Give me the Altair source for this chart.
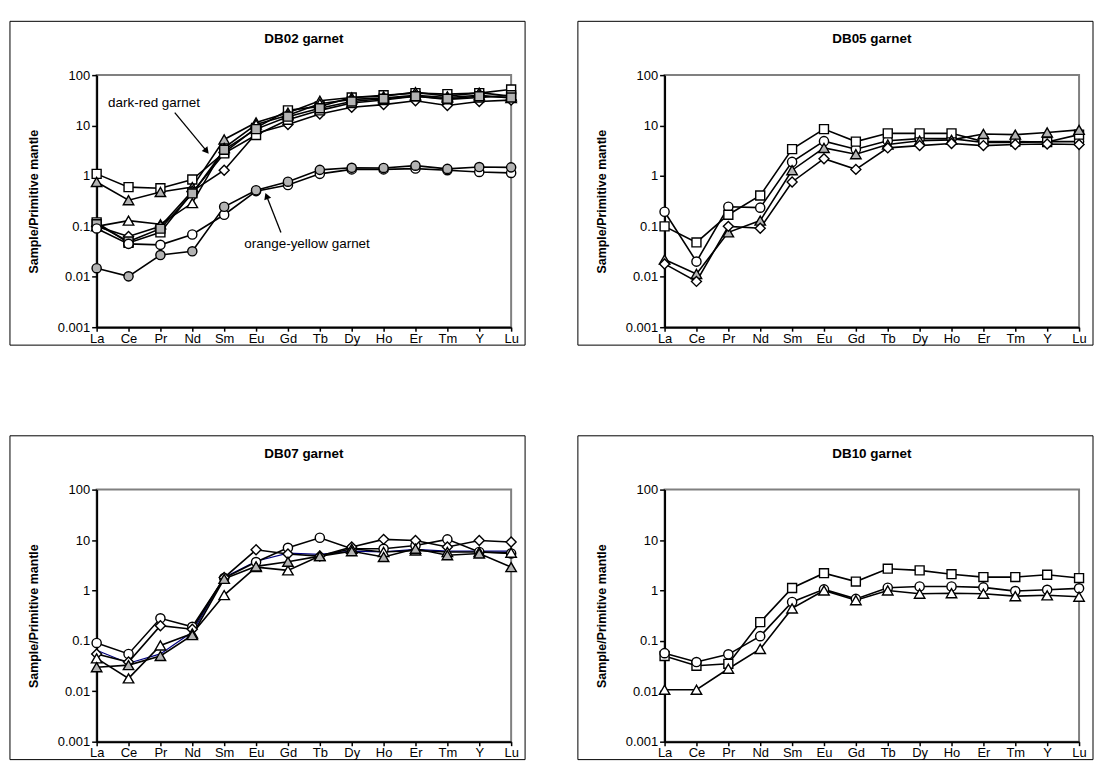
import json
import altair as alt
import pandas as pd

ELEMENTS = ["La", "Ce", "Pr", "Nd", "Sm", "Eu", "Gd", "Tb", "Dy", "Ho", "Er", "Tm", "Y", "Lu"]
Y_TICKS = [0.001, 0.01, 0.1, 1, 10, 100]

# ---- DB02 garnet (dark-red group) ----
db02_sq_high = [1.1, 0.6, 0.57, 0.85, 2.9, 9.0, 20, 24, 36, 40, 44, 42, 44, 52]
db02_tri_grey = [0.76, 0.33, 0.48, 0.6, 5.3, 11.5, 18, 31, 36, 38, 46, 38, 45, 38]
db02_tri_white = [0.1, 0.13, 0.11, 0.29, 3.6, 10.5, 16, 27, 33, 35, 40, 36, 40, 35]
db02_diamond = [0.1, 0.063, 0.1, 0.5, 1.3, 7.0, 10.5, 17, 23, 26, 31, 25, 30, 32]
db02_sq_low = [0.12, 0.047, 0.076, 0.47, 2.8, 6.5, 13, 20, 28, 32, 38, 33, 36, 40]
db02_sq_grey = [0.11, 0.05, 0.09, 0.45, 3.3, 8.5, 15, 22, 30, 34, 38, 34, 38, 36]
# ---- DB02 garnet (orange-yellow group) ----
db02_circ_white = [0.091, 0.045, 0.043, 0.069, 0.17, 0.5, 0.66, 1.1, 1.35, 1.35, 1.4, 1.3, 1.2, 1.15]
db02_circ_grey = [0.0148, 0.0102, 0.027, 0.032, 0.245, 0.52, 0.77, 1.32, 1.45, 1.44, 1.6, 1.38, 1.5, 1.48]

# ---- DB05 garnet ----
db05_circle = [0.195, 0.02, 0.245, 0.235, 1.9, 4.9, 3.4, 5.0, 5.5, 5.5, 4.6, 4.6, 4.8, 4.8]
db05_square = [0.1, 0.048, 0.17, 0.41, 3.4, 8.5, 4.8, 7.0, 7.0, 7.0, 4.8, 4.8, 4.7, 6.6]
db05_tri_grey = [0.022, 0.0114, 0.076, 0.13, 1.3, 3.6, 2.7, 4.2, 5.0, 5.2, 6.8, 6.6, 7.3, 8.2]
db05_diamond = [0.018, 0.0081, 0.1, 0.092, 0.76, 2.2, 1.35, 3.6, 4.0, 4.4, 4.0, 4.2, 4.3, 4.2]

# ---- DB07 garnet ----
db07_circle = [0.091, 0.055, 0.28, 0.19, 1.76, 3.65, 7.0, 11.1, 6.7, 6.7, 7.8, 10.3, 5.8, 5.4]
db07_diamond = [0.055, 0.038, 0.2, 0.17, 1.8, 6.4, 5.3, 4.8, 7.3, 10.3, 9.8, 7.3, 9.8, 9.1]
db07_tri_white = [0.045, 0.018, 0.081, 0.14, 0.81, 2.9, 2.5, 4.8, 6.7, 5.8, 6.2, 5.8, 5.8, 5.6]
db07_tri_grey = [0.03, 0.033, 0.05, 0.13, 1.7, 3.0, 3.7, 4.8, 6.0, 4.6, 6.7, 5.0, 5.4, 2.9]
db07_navy = [0.065, 0.036, 0.055, 0.15, 1.8, 3.8, 5.5, 5.2, 6.0, 5.8, 6.5, 6.0, 6.0, 6.0]

# ---- DB10 garnet ----
db10_square = [0.05, 0.032, 0.035, 0.235, 1.12, 2.2, 1.5, 2.7, 2.5, 2.1, 1.84, 1.84, 2.05, 1.76]
db10_circle = [0.057, 0.038, 0.054, 0.124, 0.59, 1.05, 0.68, 1.13, 1.2, 1.2, 1.15, 0.97, 1.03, 1.1]
db10_tri_white = [0.0107, 0.0107, 0.028, 0.069, 0.44, 1.0, 0.64, 1.0, 0.86, 0.88, 0.86, 0.77, 0.8, 0.75]

# ---- annotations (DB02) in data coordinates ----
ann_labels = ["dark-red garnet", "orange-yellow garnet"]
ann_x = [1.8, 6.6]
ann_y = [28.6, 0.0444]
arrow_x0 = [2.45, 5.78]
arrow_y0 = [18.0, 0.0758]
arrow_x1 = [3.45, 5.33]
arrow_y1 = [3.1, 0.40]
arrow_angle = [140, 339]

GREY = "#b3b3b3"
WHITE = "#ffffff"
FONT = "Liberation Sans"
SIZES = {"square": 81, "circle": 85, "triangle-up": 110, "diamond": 100}

PANELS = [
    ("DB02 garnet", [
        ("a", "square", WHITE, db02_sq_high),
        ("b", "triangle-up", GREY, db02_tri_grey),
        ("c", "triangle-up", WHITE, db02_tri_white),
        ("d", "diamond", WHITE, db02_diamond),
        ("e", "square", WHITE, db02_sq_low),
        ("f", "square", GREY, db02_sq_grey),
        ("g", "circle", WHITE, db02_circ_white),
        ("h", "circle", GREY, db02_circ_grey),
    ]),
    ("DB05 garnet", [
        ("a", "circle", WHITE, db05_circle),
        ("b", "square", WHITE, db05_square),
        ("c", "triangle-up", GREY, db05_tri_grey),
        ("d", "diamond", WHITE, db05_diamond),
    ]),
    ("DB07 garnet", [
        ("n", None, None, db07_navy),
        ("a", "circle", WHITE, db07_circle),
        ("b", "diamond", WHITE, db07_diamond),
        ("c", "triangle-up", WHITE, db07_tri_white),
        ("d", "triangle-up", GREY, db07_tri_grey),
    ]),
    ("DB10 garnet", [
        ("a", "square", WHITE, db10_square),
        ("b", "circle", WHITE, db10_circle),
        ("c", "triangle-up", WHITE, db10_tri_white),
    ]),
]

W, H = 416, 253

label_expr = json.dumps(ELEMENTS) + "[datum.value]"
xscale = alt.Scale(domain=[0, len(ELEMENTS) - 1], nice=False, zero=False)
yscale = alt.Scale(type="log", domain=[0.001, 100], nice=False)
xaxis = alt.Axis(values=list(range(len(ELEMENTS))), labelExpr=label_expr, title=None,
                 grid=False, tickSize=4, tickWidth=1.5, tickColor="black",
                 domainColor="black", domainWidth=2, labelPadding=1,
                 labelFont=FONT, labelFontSize=13, labelColor="black", labelFlush=False)
yaxis = alt.Axis(values=Y_TICKS, format="~g", title="Sample/Primitive mantle",
                 grid=False, tickSize=5, tickWidth=1.5, tickColor="black",
                 domainColor="black", domainWidth=2, labelPadding=2,
                 labelFont=FONT, labelFontSize=13, labelColor="black", labelFlush=False,
                 titleFont=FONT, titleFontSize=12.5, titleFontWeight="bold", titleColor="black",
                 titleX=-63, titleY=H / 2, titleAlign="center", titleBaseline="middle")


def X(field):
    return alt.X(field, type="quantitative", scale=xscale, axis=xaxis)


def Y(field):
    return alt.Y(field, type="quantitative", scale=yscale, axis=yaxis)


def make_panel(title, series, annotate):
    rows = []
    for name, shape, fill, values in series:
        for i, v in enumerate(values):
            rows.append({
                "series": name, "idx": i, "value": v,
                "shape": shape or "circle", "fill": fill or WHITE,
                "size": SIZES.get(shape, 0),
                "marker": shape is not None,
                "lcolor": "#000080" if shape is None else "black",
                "lw": 1.2 if shape is None else 1.6,
            })
    df = pd.DataFrame(rows)

    frame = alt.Chart(pd.DataFrame({"k": [0]})).mark_rect(
        filled=False, stroke="black", strokeWidth=1
    ).encode(x=alt.value(-87), x2=alt.value(W + 14), y=alt.value(-54), y2=alt.value(H + 18))

    ttl = alt.Chart(pd.DataFrame({"k": [0]})).mark_text(
        font=FONT, fontSize=13.5, fontWeight="bold", align="center", baseline="middle", color="black"
    ).encode(x=alt.value(W / 2), y=alt.value(-36), text=alt.value(title))

    lines = alt.Chart(df).mark_line().encode(
        x=X("idx"), y=Y("value"), detail="series:N",
        color=alt.Color("lcolor:N", scale=None),
        strokeWidth=alt.StrokeWidth("lw:Q", scale=None),
        order="idx:Q",
    )
    points = alt.Chart(df[df["marker"]]).mark_point(
        filled=True, stroke="black", strokeWidth=1.4, opacity=1, fillOpacity=1
    ).encode(
        x=X("idx"), y=Y("value"),
        shape=alt.Shape("shape:N", scale=None),
        fill=alt.Fill("fill:N", scale=None),
        size=alt.Size("size:Q", scale=None),
    )
    layers = [frame, ttl, lines, points]
    if annotate:
        adf = pd.DataFrame({"ax": ann_x, "ay": ann_y, "label": ann_labels,
                            "x0": arrow_x0, "y0": arrow_y0, "x1": arrow_x1, "y1": arrow_y1,
                            "ang": arrow_angle})
        txt = alt.Chart(adf).mark_text(font=FONT, fontSize=13.5, color="black",
                                       align="center", baseline="middle").encode(
            x=X("ax"), y=Y("ay"), text="label:N")
        rule = alt.Chart(adf).mark_rule(color="black", strokeWidth=1.3).encode(
            x=X("x0"), y=Y("y0"), x2="x1:Q", y2="y1:Q")
        head = alt.Chart(adf).mark_point(shape="triangle-up", filled=True, color="black",
                                         opacity=1, size=55).encode(
            x=X("x1"), y=Y("y1"), angle=alt.Angle("ang:Q", scale=None))
        layers += [rule, head, txt]
    return alt.layer(*layers).properties(width=W, height=H)


charts = [make_panel(t, s, i == 0) for i, (t, s) in enumerate(PANELS)]

chart = alt.concat(*charts, columns=2, spacing={"row": 163, "column": 154}, bounds="flush").properties(
    padding={"left": 8, "top": 18, "right": 0, "bottom": 0},
    background="white",
).configure_view(stroke="#808080", strokeWidth=2)

chart.save("out.html", embed_options={"renderer": "svg", "actions": False})
